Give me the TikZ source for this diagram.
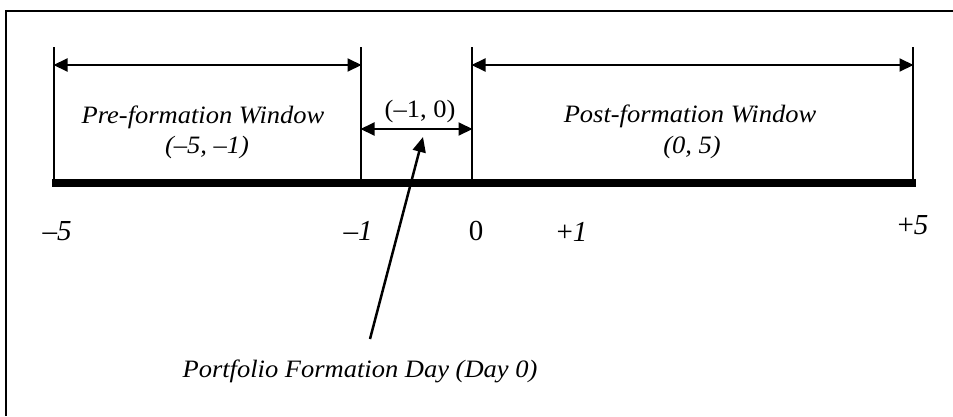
\documentclass[tikz,border=0pt]{standalone}
\usepackage{fontspec}
\setmainfont{Liberation Serif}[FakeStretch=1.06]
\newfontfamily\tickfont{Liberation Serif}
\usetikzlibrary{arrows.meta}
\begin{document}
\begin{tikzpicture}[x=1pt,y=-1pt,
  txt/.style={inner sep=0pt, anchor=base, font=\fontsize{25}{29}\selectfont},
  itxt/.style={txt, font=\fontsize{25}{29}\selectfont\itshape},
  tick/.style={inner sep=0pt, anchor=base, font=\tickfont\fontsize{29}{33}\selectfont},
  bar/.style={line width=2pt},
  span/.style={line width=2pt, {Triangle[length=14pt,width=13pt]}-{Triangle[length=14pt,width=13pt]}, shorten <=-0.5pt, shorten >=-0.5pt},
  pointer/.style={line width=2.5pt, -{Triangle[length=15pt,width=13pt]}}]
\useasboundingbox (0,0) rectangle (953,416);
% frame
\draw[line width=2pt] (953,11) -- (6,11) -- (6,416);
% axis
\coordinate (axL) at (52,183);
\coordinate (axR) at (916,183);
\draw[line width=7.5pt] (axL) -- (axR);
% vertical bars
\coordinate (t5) at (54,47);   \coordinate (b5) at (54,183);
\coordinate (t1) at (361,47);  \coordinate (b1) at (361,183);
\coordinate (t0) at (472,47);  \coordinate (b0) at (472,183);
\coordinate (tp) at (913,47);  \coordinate (bp) at (913,183);
\draw[bar] (t5) -- (b5);
\draw[bar] (t1) -- (b1);
\draw[bar] (t0) -- (b0);
\draw[bar] (tp) -- (bp);
% span arrows
\coordinate (a5) at (54,65);  \coordinate (a1) at (361,65);
\coordinate (a0) at (472,65); \coordinate (ap) at (913,65);
\coordinate (m1) at (361,129); \coordinate (m0) at (472,129);
\draw[span] (a5) -- (a1);
\draw[span] (a0) -- (ap);
\draw[span] (m1) -- (m0);
% window labels
\node[itxt] (pre) at (203,123) {Pre-formation Window};
\node[itxt] (prer) at (207,153) {(–5, –1)};
\node[itxt] (post) at (690,122) {Post-formation Window};
\node[itxt] (postr) at (692,153) {(0, 5)};
\node[txt] (mid) at (420,117) {(–1, 0)};
% tick labels
\node[tick] (l5) at (57,240) {\textit{–5}};
\node[tick] (l1) at (358,240) {\textit{–1}};
\node[tick] (l0) at (476,240) {0};
\node[tick] (lp1) at (572,241) {+\textit{1}};
\node[tick] (lp5) at (913,234) {+\textit{5}};
% formation day pointer
\node[itxt] (fday) at (360,377) {Portfolio Formation Day (Day 0)};
\coordinate (ptail) at (370,339);
\coordinate (ptip) at (423,137);
\draw[pointer] (ptail) -- (ptip);
\end{tikzpicture}
\end{document}
